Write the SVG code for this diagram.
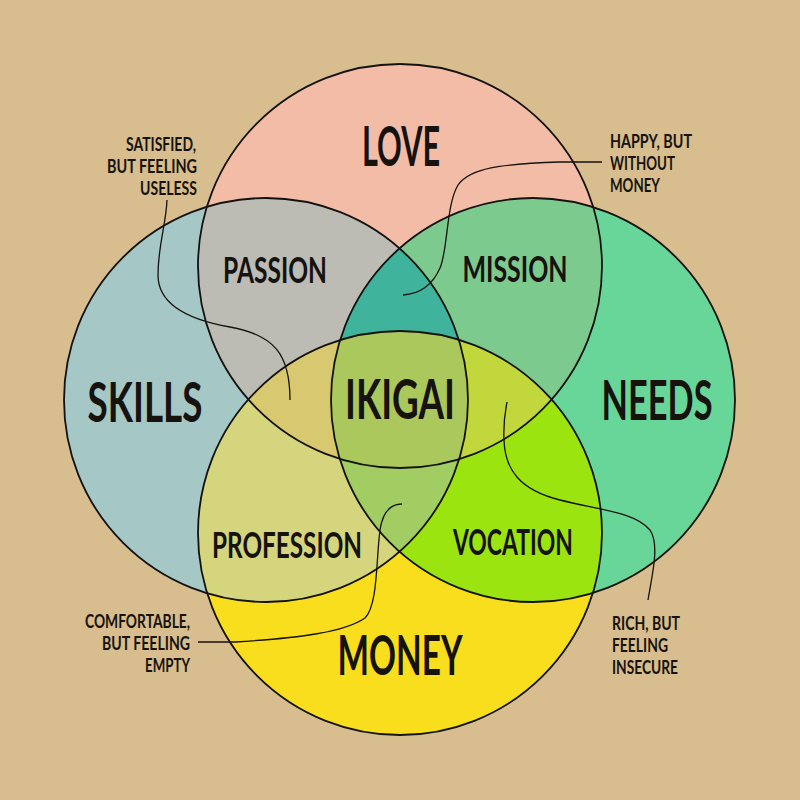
<svg xmlns="http://www.w3.org/2000/svg" width="800" height="800" viewBox="0 0 800 800">
<defs>
<clipPath id="cL"><circle cx="400" cy="266" r="202"/></clipPath>
<clipPath id="cS"><circle cx="266" cy="400" r="202"/></clipPath>
<clipPath id="cN"><circle cx="533" cy="400" r="202"/></clipPath>
<clipPath id="cM"><circle cx="400" cy="533" r="202"/></clipPath>
</defs>
<style>
.ring{fill:none;stroke:#141210;stroke-width:1.8}
.big{font-family:Lato,"Open Sans",sans-serif;font-weight:700;font-size:56px;fill:#16120e;text-anchor:middle}
.mid{font-family:Lato,"Open Sans",sans-serif;font-weight:700;font-size:36px;fill:#16120e;text-anchor:middle}
.small{font-family:Lato,"Open Sans",sans-serif;font-weight:700;font-size:18px;fill:#16120e}
.lead{fill:none;stroke:#16120e;stroke-width:1.3}
</style>
<rect width="800" height="800" fill="#d8bd8e"/>
<g id="regions">
<circle cx="400" cy="266" r="202" fill="#f3bca7"/>
<circle cx="266" cy="400" r="202" fill="#a5c7c6"/>
<circle cx="533" cy="400" r="202" fill="#68d699"/>
<circle cx="400" cy="533" r="202" fill="#f8de1d"/>
<g clip-path="url(#cS)"><circle cx="400" cy="266" r="202" fill="#bcbcb4"/></g>
<g clip-path="url(#cN)"><circle cx="400" cy="266" r="202" fill="#7dca8f"/></g>
<g clip-path="url(#cM)"><circle cx="266" cy="400" r="202" fill="#d4d57c"/></g>
<g clip-path="url(#cM)"><circle cx="533" cy="400" r="202" fill="#9be40f"/></g>
<g clip-path="url(#cS)"><g clip-path="url(#cN)"><circle cx="400" cy="266" r="202" fill="#3fb39b"/></g></g>
<g clip-path="url(#cS)"><g clip-path="url(#cM)"><circle cx="400" cy="266" r="202" fill="#d8c970"/></g></g>
<g clip-path="url(#cN)"><g clip-path="url(#cM)"><circle cx="400" cy="266" r="202" fill="#c2d73b"/></g></g>
<g clip-path="url(#cN)"><g clip-path="url(#cM)"><circle cx="266" cy="400" r="202" fill="#a2cd63"/></g></g>
<g clip-path="url(#cS)"><g clip-path="url(#cN)"><g clip-path="url(#cM)"><circle cx="400" cy="266" r="202" fill="#abc85c"/></g></g></g>
</g>
<g id="connectors">
<path class="lead" d="M167,200 C166,225 158,245 158,275 C158,305 190,320 230,327 C275,335 290,355 290,400"/>
<path class="lead" d="M602,162 L560,162 C500,164 470,168 458,185 C446,205 448,250 440,268 C432,286 420,294 403,295"/>
<path class="lead" d="M198,642 L235,642 C300,638 345,632 365,618 C378,605 376,560 380,530 C383,510 392,504 402,504"/>
<path class="lead" d="M648,600 C652,575 660,545 650,530 C635,512 600,510 560,500 C520,490 505,470 504,440 C503,420 506,408 507,402"/>
</g>
<g id="love"><circle class="ring" cx="400" cy="266" r="202"/><text class="big" x="401" y="166" font-size="54" textLength="78" lengthAdjust="spacingAndGlyphs">LOVE</text></g>
<g id="skills"><circle class="ring" cx="266" cy="400" r="202"/><text class="big" x="145" y="422" font-size="60" textLength="115" lengthAdjust="spacingAndGlyphs">SKILLS</text></g>
<g id="needs"><circle class="ring" cx="533" cy="400" r="202"/><text class="big" x="657" y="420" font-size="60" textLength="111" lengthAdjust="spacingAndGlyphs">NEEDS</text></g>
<g id="money"><circle class="ring" cx="400" cy="533" r="202"/><text class="big" x="400" y="675" font-size="52" textLength="125" lengthAdjust="spacingAndGlyphs">MONEY</text></g>
<g id="ikigai"><text class="big" x="400" y="419" font-size="58" textLength="110" lengthAdjust="spacingAndGlyphs">IKIGAI</text></g>
<g id="passion"><text class="mid" x="275" y="283" textLength="104" lengthAdjust="spacingAndGlyphs">PASSION</text></g>
<g id="mission"><text class="mid" x="515" y="282" textLength="105" lengthAdjust="spacingAndGlyphs">MISSION</text></g>
<g id="profession"><text class="mid" x="287" y="558" textLength="150" lengthAdjust="spacingAndGlyphs">PROFESSION</text></g>
<g id="vocation"><text class="mid" x="513" y="555" textLength="120" lengthAdjust="spacingAndGlyphs">VOCATION</text></g>
<g id="note-satisfied" class="small" text-anchor="end">
<text x="196" y="151" textLength="70" lengthAdjust="spacingAndGlyphs">SATISFIED,</text>
<text x="197" y="173" textLength="90" lengthAdjust="spacingAndGlyphs">BUT FEELING</text>
<text x="197" y="195" textLength="57" lengthAdjust="spacingAndGlyphs">USELESS</text>
</g>
<g id="note-happy" class="small">
<text x="610" y="148" textLength="82" lengthAdjust="spacingAndGlyphs">HAPPY, BUT</text>
<text x="610" y="170" textLength="65" lengthAdjust="spacingAndGlyphs">WITHOUT</text>
<text x="610" y="192" textLength="50" lengthAdjust="spacingAndGlyphs">MONEY</text>
</g>
<g id="note-comfortable" class="small" text-anchor="end">
<text x="190" y="628" textLength="105" lengthAdjust="spacingAndGlyphs">COMFORTABLE,</text>
<text x="190" y="650" textLength="88" lengthAdjust="spacingAndGlyphs">BUT FEELING</text>
<text x="190" y="672" textLength="45" lengthAdjust="spacingAndGlyphs">EMPTY</text>
</g>
<g id="note-rich" class="small">
<text x="612" y="630" textLength="68" lengthAdjust="spacingAndGlyphs">RICH, BUT</text>
<text x="612" y="652" textLength="56" lengthAdjust="spacingAndGlyphs">FEELING</text>
<text x="612" y="674" textLength="66" lengthAdjust="spacingAndGlyphs">INSECURE</text>
</g>
</svg>
